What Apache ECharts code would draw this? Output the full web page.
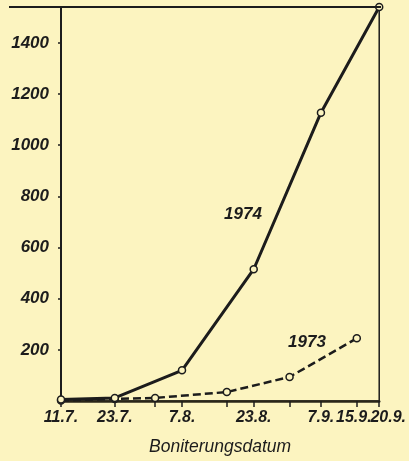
<!DOCTYPE html>
<html>
<head>
<meta charset="utf-8">
<script src="https://cdn.jsdelivr.net/npm/echarts@6/dist/echarts.min.js"></script>
<style>
html,body{margin:0;padding:0;background:#fcf4c0;}
#c{width:409px;height:461px;}
</style>
</head>
<body>
<div id="c"></div>
<script>
// Tick labels (dates) and their positions in days after 11.7.
const dateLabels = ['11.7.', '23.7.', '7.8.', '23.8.', '7.9.', '15.9.', '20.9.'];
const labelDays = [0, 12, 27, 43, 58, 66, 71];
// 1974 series
const days1974 = [0, 12, 27, 43, 58, 71];
const values1974 = [6, 12, 120, 515, 1127, 1540];
// 1973 series
const days1973 = [0, 12, 21, 37, 51, 66];
const values1973 = [2, 8, 12, 35, 94, 245];
const yTicks = [200, 400, 600, 800, 1000, 1200, 1400];
const xTitle = 'Boniterungsdatum';

const ink = '#1c1c1c';
const font = '"Liberation Sans", Arial, sans-serif';
const lastDay = labelDays[labelDays.length - 1];
const n = labelDays.length;
const labelFmt = v => {
  const i = labelDays.indexOf(v);
  if (i === n - 1) return '{q|' + dateLabels[i] + '}';
  if (i === n - 2) return '{r|' + dateLabels[i] + '}';
  return dateLabels[i];
};
const xLabelStyle = {
  color: ink, fontStyle: 'italic', fontWeight: 'bold', fontSize: 16, fontFamily: font, margin: 9,
  rich: {
    r: { color: ink, fontStyle: 'italic', fontWeight: 'bold', fontSize: 16, fontFamily: font, padding: [0, 6, 0, 0] },
    q: { color: ink, fontStyle: 'italic', fontWeight: 'bold', fontSize: 16, fontFamily: font, padding: [0, 0, 0, 18] }
  }
};

const chart = echarts.init(document.getElementById('c'));
chart.setOption({
  backgroundColor: '#fcf4c0',
  animation: false,
  grid: { left: 61, right: 29, top: 7, bottom: 59, show: true, borderColor: ink, borderWidth: 1.5, backgroundColor: 'transparent' },
  xAxis: [{
    type: 'value', min: 0, max: lastDay,
    name: xTitle, nameLocation: 'middle', nameGap: 37,
    nameTextStyle: { color: ink, fontStyle: 'italic', fontSize: 17.5, fontFamily: font },
    axisLine: { show: true, lineStyle: { color: '#2a2618', width: 2.5 } },
    axisTick: { show: true, customValues: labelDays.concat(days1973.slice(2, 5)), length: 6, lineStyle: { color: ink, width: 1.5 } },
    axisLabel: Object.assign({
      customValues: labelDays.slice(0, -1),
      showMinLabel: true, hideOverlap: false,
      formatter: labelFmt
    }, xLabelStyle),
    splitLine: { show: false }
  }, {
    type: 'value', min: 0, max: lastDay, position: 'bottom',
    axisLine: { show: false }, axisTick: { show: false }, splitLine: { show: false },
    axisLabel: Object.assign({ customValues: [lastDay], showMaxLabel: true, formatter: labelFmt }, xLabelStyle)
  }],
  yAxis: {
    type: 'value', min: 0, max: 1540,
    axisLine: { show: true, onZero: false, lineStyle: { color: ink, width: 2 } },
    axisTick: { show: true, customValues: yTicks, length: 3, lineStyle: { color: ink, width: 1.5 } },
    axisLabel: {
      customValues: yTicks, formatter: v => String(v),
      color: ink, fontStyle: 'italic', fontWeight: 'bold', fontSize: 17, fontFamily: font, margin: 12
    },
    splitLine: { show: false }
  },
  graphic: [
    { type: 'line', shape: { x1: 9, y1: 7, x2: 381, y2: 7 }, style: { stroke: ink, lineWidth: 2 }, z: 10 },
    { type: 'text', x: 243, y: 214, style: { text: '1974', fill: ink, font: 'italic bold 17px ' + font, textAlign: 'center', textVerticalAlign: 'middle' }, z: 10 },
    { type: 'text', x: 307, y: 342, style: { text: '1973', fill: ink, font: 'italic bold 17px ' + font, textAlign: 'center', textVerticalAlign: 'middle' }, z: 10 }
  ],
  series: [
    {
      type: 'line', name: '1974',
      data: days1974.map((d, i) => [d, values1974[i]]),
      symbol: 'circle', symbolSize: 7,
      itemStyle: { color: '#fcf4c0', borderColor: ink, borderWidth: 1.5 },
      lineStyle: { color: ink, width: 3 },
      z: 5
    },
    {
      type: 'line', name: '1973',
      data: days1973.map((d, i) => [d, values1973[i]]),
      symbol: 'circle', symbolSize: 7,
      itemStyle: { color: '#fcf4c0', borderColor: ink, borderWidth: 1.5 },
      lineStyle: { color: ink, width: 2.5, type: [8, 4] },
      z: 4
    }
  ]
});
</script>
</body>
</html>
